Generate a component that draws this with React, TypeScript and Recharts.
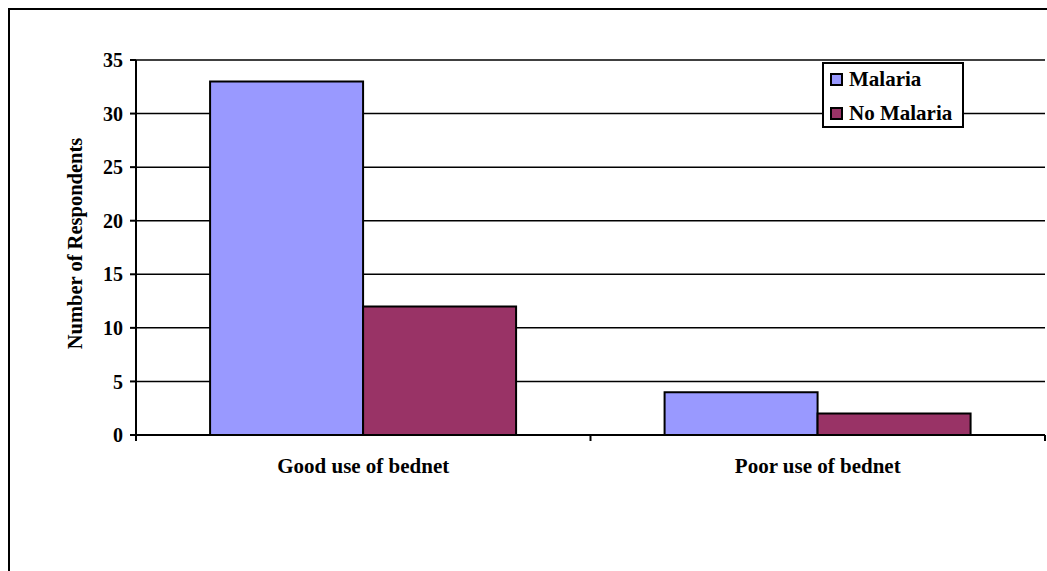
import React from "react";
import {
  BarChart,
  Bar,
  XAxis,
  YAxis,
  CartesianGrid,
  Legend,
  Label,
} from "recharts";

const categories = ["Good use of bednet", "Poor use of bednet"];
const malaria = [33, 4];
const noMalaria = [12, 2];
const yTicks = [0, 5, 10, 15, 20, 25, 30, 35];

const data = categories.map((name, i) => ({
  name,
  malaria: malaria[i],
  noMalaria: noMalaria[i],
}));

const W = 1037;
const H = 561;
const margin = { top: 50, right: 2, left: 56, bottom: 106 };
const Y_AXIS_W = 70;
const BAND = (W - margin.left - margin.right - Y_AXIS_W) / categories.length;

const FONT = "Times New Roman, Liberation Serif, Tinos, serif";

const series = [
  { key: "malaria", name: "Malaria", color: "#9999FF" },
  { key: "noMalaria", name: "No Malaria", color: "#993366" },
];

// category label centred in its band, tick marks on the band edges
function CategoryTick(props: any) {
  const { x, y, payload, index } = props;
  const last = index === categories.length - 1;
  return (
    <g>
      <line x1={x - BAND / 2} x2={x - BAND / 2} y1={y} y2={y + 6} stroke="#000" strokeWidth={2} />
      {last && (
        <line x1={x + BAND / 2} x2={x + BAND / 2} y1={y} y2={y + 6} stroke="#000" strokeWidth={2} />
      )}
      <text
        x={x}
        y={y + 38}
        textAnchor="middle"
        style={{ fontFamily: FONT, fontWeight: "bold", fontSize: 21 }}
        fill="#000"
      >
        {payload.value}
      </text>
    </g>
  );
}

function LegendBox() {
  return (
    <div
      style={{
        width: 142,
        height: 66,
        boxSizing: "border-box",
        border: "2px solid #000",
        background: "#fff",
        fontFamily: FONT,
        fontWeight: "bold",
        fontSize: 21,
        color: "#000",
      }}
    >
      <div style={{ marginTop: -2 }}>
        {series.map((s) => (
          <div key={s.key} style={{ height: 34, display: "flex", alignItems: "center" }}>
            <span
              style={{
                display: "inline-block",
                width: 13,
                height: 13,
                boxSizing: "border-box",
                border: "2px solid #000",
                background: s.color,
                marginLeft: 6,
                marginRight: 6,
              }}
            />
            <span style={{ lineHeight: "34px" }}>{s.name}</span>
          </div>
        ))}
      </div>
    </div>
  );
}

function YTitle(props: any) {
  const { viewBox } = props;
  const cx = viewBox.x + 9;
  const cy = viewBox.y + viewBox.height / 2 - 4;
  return (
    <text
      x={cx}
      y={cy}
      transform={`rotate(-90, ${cx}, ${cy})`}
      textAnchor="middle"
      dy="0.35em"
      style={{ fontFamily: FONT, fontWeight: "bold", fontSize: 20.5 }}
      fill="#000"
    >
      Number of Respondents
    </text>
  );
}

export default function App() {
  return (
    <div
      style={{
        position: "fixed",
        left: 8,
        top: 8,
        width: 1039,
        height: 563,
        boxSizing: "border-box",
        borderLeft: "2px solid #000",
        borderTop: "2px solid #000",
        background: "#fff",
        overflow: "hidden",
        fontFamily: FONT,
      }}
    >
      <BarChart
        width={W}
        height={H}
        data={data}
        margin={margin}
        barCategoryGap="16.3%"
        barGap={0}
        style={{ fontFamily: FONT }}
      >
        <CartesianGrid vertical={false} stroke="#000" strokeWidth={1.5} />
        <XAxis
          dataKey="name"
          axisLine={{ stroke: "#000", strokeWidth: 2 }}
          tickLine={false}
          tickSize={0}
          tickMargin={0}
          tick={<CategoryTick />}
          interval={0}
          height={30}
        />
        <YAxis
          domain={[0, 35]}
          ticks={yTicks}
          width={Y_AXIS_W}
          axisLine={{ stroke: "#000", strokeWidth: 2 }}
          tickLine={{ stroke: "#000", strokeWidth: 2 }}
          tickSize={6}
          tickMargin={7}
          tick={{ fill: "#000", style: { fontFamily: FONT, fontWeight: "bold", fontSize: 20 } }}
        >
          <Label content={<YTitle />} />
        </YAxis>
        <YAxis
          yAxisId="frame"
          orientation="right"
          width={0}
          tick={false}
          tickLine={false}
          axisLine={{ stroke: "#000", strokeWidth: 2 }}
        />
        <Legend
          layout="vertical"
          align="center"
          verticalAlign="middle"
          content={<LegendBox />}
          wrapperStyle={{ top: 52, left: 812, width: 142, height: 66 }}
        />
        {series.map((s) => (
          <Bar
            key={s.key}
            dataKey={s.key}
            name={s.name}
            fill={s.color}
            stroke="#000"
            strokeWidth={2}
            isAnimationActive={false}
          />
        ))}
      </BarChart>
    </div>
  );
}
